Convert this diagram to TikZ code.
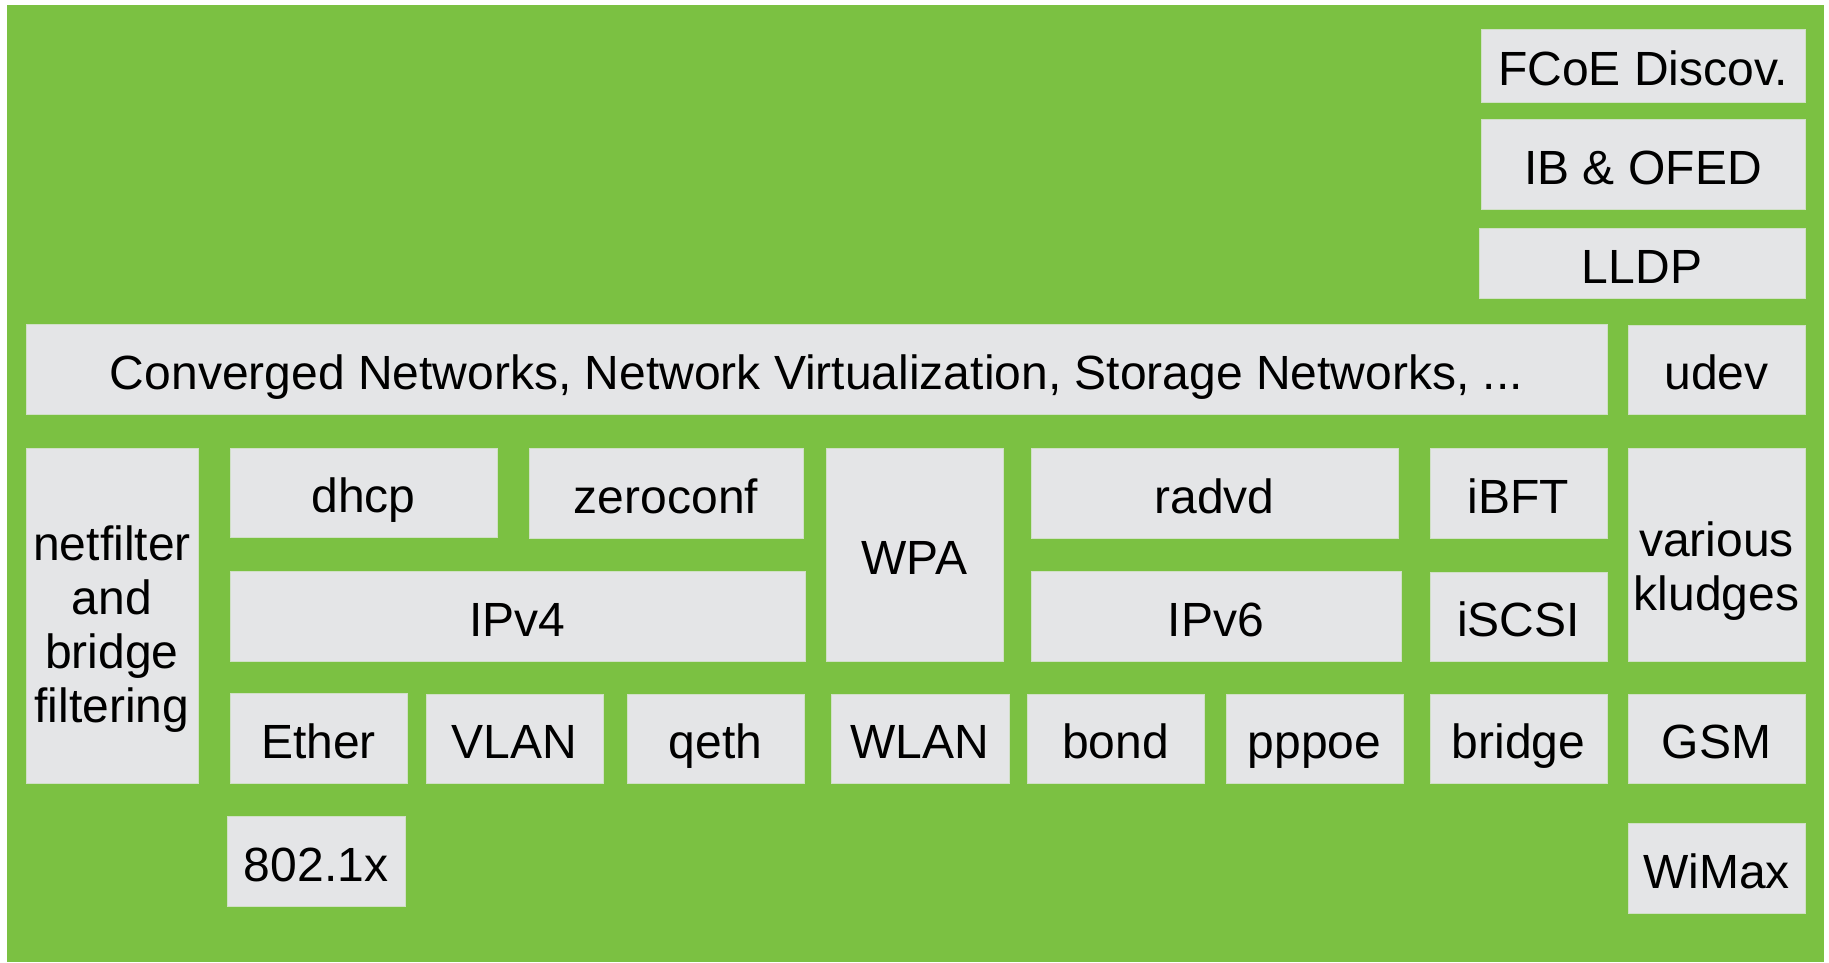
\documentclass[tikz,border=0pt]{standalone}
\usepackage{fontspec}
\setmainfont{Liberation Sans}
\definecolor{bggreen}{RGB}{123,193,66}
\definecolor{boxgrey}{RGB}{228,229,231}
\definecolor{boxline}{RGB}{208,224,198}
\tikzstyle{box} = [rectangle, fill=boxgrey, draw=boxline, line width=1pt, inner sep=0pt, align=center, text height=40pt, text depth=0pt, font=\fontsize{48}{54}\selectfont]
\tikzset{size/.style 2 args={minimum width=#1pt, minimum height=#2pt}}

\begin{document}
\begin{tikzpicture}[x=1pt, y=-1pt]
    \useasboundingbox (0,0) rectangle (1829,962);
    \fill[bggreen] (7,5) rectangle (1824,962);

    % right column, top
    \node (fcoe) [box, size={324}{73}] at (1643,65.5) {FCoE Discov.};
    \node (ib) [box, size={324}{90}] at (1643,164) {IB \& OFED};
    \node (lldp) [box, size={326}{70}] at (1642,263) {LLDP};

    \node (conv) [box, size={1581}{90}] at (816.5,369) {Converged Networks, Network Virtualization, Storage Networks, ...};
    \node (udev) [box, size={177}{89}] at (1716.5,369.5) {udev};

    \node (netf) [box, size={172}{335}, text height=213pt] at (112,615.5) {netfilter\\and\\bridge\\filtering};
    \node (dhcp) [box, size={267}{89}] at (363.5,492.5) {dhcp};
    \node (zeroconf) [box, size={274}{90}] at (666,493) {zeroconf};
    \node (wpa) [box, size={177}{213}] at (914.5,554.5) {WPA};
    \node (radvd) [box, size={367}{90}] at (1214.5,493) {radvd};
    \node (ibft) [box, size={177}{90}] at (1518.5,493) {iBFT};
    \node (kludges) [box, size={177}{213}, text height=111pt] at (1716.5,554.5) {various\\kludges};

    \node (ipv4) [box, size={575}{90}] at (517.5,616) {IPv4};
    \node (ipv6) [box, size={370}{90}] at (1216,616) {IPv6};
    \node (iscsi) [box, size={177}{89}] at (1518.5,616.5) {iSCSI};

    % link layer
    \node (ether) [box, size={177}{90}] at (318.5,738) {Ether};
    \node (vlan) [box, size={177}{89}] at (514.5,738.5) {VLAN};
    \node (qeth) [box, size={177}{89}] at (715.5,738.5) {qeth};
    \node (wlan) [box, size={178}{89}] at (920,738.5) {WLAN};
    \node (bond) [box, size={177}{89}] at (1115.5,738.5) {bond};
    \node (pppoe) [box, size={177}{89}] at (1314.5,738.5) {pppoe};
    \node (bridge) [box, size={177}{89}] at (1518.5,738.5) {bridge};
    \node (gsm) [box, size={177}{89}] at (1716.5,738.5) {GSM};

    \node (dot1x) [box, size={178}{90}] at (316,861) {802.1x};
    \node (wimax) [box, size={177}{90}] at (1716.5,868) {WiMax};
\end{tikzpicture}
\end{document}
